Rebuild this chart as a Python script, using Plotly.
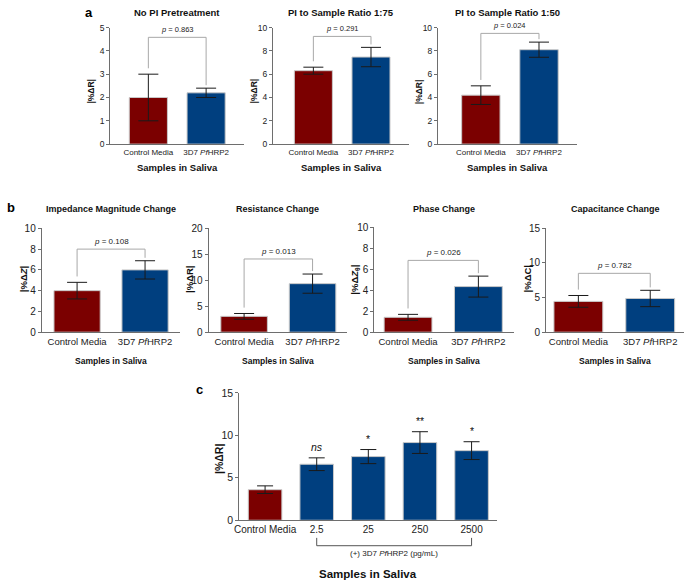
import plotly.graph_objects as go

# ---------------- data ----------------
a_titles = ["No PI Pretreatment", "PI to Sample Ratio 1:75", "PI to Sample Ratio 1:50"]
a_ctrl = [2.0, 6.3, 4.2]
a_ctrl_err = [1.0, 0.3, 0.8]
a_hrp2 = [2.2, 7.47, 8.1]
a_hrp2_err = [0.2, 0.83, 0.65]
a_p = ["0.863", "0.291", "0.024"]
a_bracket = [4.58, 9.24, 9.5]
a_ymax = [5, 10, 10]
a_dtick = [1, 2, 2]

b_titles = ["Impedance Magnitude Change", "Resistance Change", "Phase Change", "Capacitance Change"]
b_ylabels = ["|%Δ<i>Z</i>|", "|%ΔR|", "|%Δ<i>Z</i><sub>θ</sub>|", "|%ΔC|"]
b_ctrl = [4.0, 3.05, 1.42, 4.45]
b_ctrl_err = [0.8, 0.55, 0.28, 0.85]
b_hrp2 = [6.0, 9.35, 4.35, 4.87]
b_hrp2_err = [0.88, 1.85, 1.0, 1.18]
b_p = ["0.108", "0.013", "0.026", "0.782"]
b_bracket = [8.0, 14.1, 6.85, 8.5]
b_ymax = [10, 20, 10, 15]
b_dtick = [2, 5, 2, 5]

categories = ["Control Media", "3D7 <i>Pf</i>HRP2"]

c_labels = ["Control Media", "2.5", "25", "250", "2500"]
c_vals = [3.6, 6.6, 7.5, 9.15, 8.2]
c_err = [0.45, 0.75, 0.83, 1.28, 1.05]
c_sig = ["", "<i>ns</i>", "*", "**", "*"]

# ---------------- style ----------------
W, H = 685, 586
RED = "#7b0000"
BLUE = "#003f7f"
EDGE = "#c9c9c9"
AXC = "#6e6e6e"
BRK = "#a8a8a8"
FONT = "Liberation Sans, Arial, sans-serif"


def xd(a, b):
    return [a / W, b / W]


def yd(top, bottom):
    return [1 - bottom / H, 1 - top / H]


def py(p):
    return 1 - p / H


def txt(x, y, text, size, color="#111", xref="paper", yref="paper", angle=0, **kw):
    d = dict(x=x, y=y, xref=xref, yref=yref, text=text, showarrow=False,
             xanchor="center", yanchor="middle", textangle=angle,
             font=dict(size=size, color=color, family=FONT))
    d.update(kw)
    return d


# panel geometry (pixels)
panels = [
    dict(x=(106, 241), y=(22, 141), xr=(-0.66, 1.66)),
    dict(x=(270, 407), y=(22, 141), xr=(-0.70, 1.66)),
    dict(x=(436, 576), y=(22, 141), xr=(-0.74, 1.65)),
    dict(x=(37, 176), y=(227, 333), xr=(-0.52, 1.51)),
    dict(x=(205, 345), y=(227, 333), xr=(-0.52, 1.51)),
    dict(x=(372, 513), y=(226, 333), xr=(-0.48, 1.51)),
    dict(x=(545, 684), y=(227, 333), xr=(-0.45, 1.47)),
    dict(x=(236, 496), y=(395, 525), xr=(-0.5, 4.5)),
]

fig = go.Figure()
layout = {}
annotations = []
shapes = []


def axnames(i):
    s = "" if i == 0 else str(i + 1)
    return "x" + s, "y" + s, "xaxis" + s, "yaxis" + s


def add_pair(i, ctrl, ce, hrp, he, ymax, dtick, p, brk, tfs, lfs, pfs, bw, capw):
    xr_, yr_, xk, yk = axnames(i)
    pn = panels[i]
    fig.add_trace(go.Bar(
        x=[0, 1], y=[ctrl, hrp], width=bw,
        marker=dict(color=[RED, BLUE], line=dict(color=EDGE, width=1)),
        error_y=dict(type="data", array=[ce, he], visible=True,
                     color="#1a1a1a", thickness=1, width=capw),
        xaxis=xr_, yaxis=yr_, showlegend=False, hoverinfo="skip"))
    layout[xk] = dict(domain=xd(*pn["x"]), range=list(pn["xr"]), anchor=yr_,
                      tickvals=[0, 1], ticktext=categories,
                      tickfont=dict(size=lfs, color="#222", family=FONT),
                      showline=True, linecolor=AXC, linewidth=1, ticks="",
                      showgrid=False, zeroline=False, fixedrange=True)
    layout[yk] = dict(domain=yd(*pn["y"]), range=[0, ymax], anchor=xr_,
                      dtick=dtick, tickfont=dict(size=tfs, color="#222", family=FONT),
                      showline=True, linecolor=AXC, linewidth=1,
                      ticks="outside", ticklen=3, tickcolor=AXC,
                      showgrid=False, zeroline=False, fixedrange=True)
    ytop, ybot = pn["y"]
    ppu = (ybot - ytop) / ymax
    lt = ctrl + ce + 6 / ppu
    rt = hrp + he + 3 / ppu
    shapes.append(dict(type="path", xref=xr_, yref=yr_,
                       path=f"M 0,{lt} L 0,{brk} L 1,{brk} L 1,{rt}",
                       line=dict(color=BRK, width=1)))
    annotations.append(txt(0.5, brk, f"<i>p</i> = {p}", pfs, "#222", xref=xr_, yref=yr_,
                           yanchor="bottom", yshift=1))


# ----- panel a -----
for k in range(3):
    add_pair(k, a_ctrl[k], a_ctrl_err[k], a_hrp2[k], a_hrp2_err[k], a_ymax[k], a_dtick[k],
             a_p[k], a_bracket[k], 8.5, 8, 7.5, 0.66, 10)
    pn = panels[k]
    cx = (pn["x"][0] + pn["x"][1]) / 2 / W
    annotations.append(txt(cx, py(7), f"<b>{a_titles[k]}</b>", 9.5))
    annotations.append(txt(cx, py(165), "<b>Samples in Saliva</b>", 9.5))
    annotations.append(txt((pn["x"][0] - 19) / W, py(87), "<b>|%ΔR|</b>", 8.5, angle=-90))

# ----- panel b -----
for k in range(4):
    i = 3 + k
    add_pair(i, b_ctrl[k], b_ctrl_err[k], b_hrp2[k], b_hrp2_err[k], b_ymax[k], b_dtick[k],
             b_p[k], b_bracket[k], 10, 9.5, 8, 0.68, 10)
    pn = panels[i]
    cx = (pn["x"][0] + pn["x"][1]) / 2 / W
    annotations.append(txt(cx, py(207), f"<b>{b_titles[k]}</b>", 9))
    annotations.append(txt(cx, py(362), "<b>Samples in Saliva</b>", 8.5))
    annotations.append(txt((pn["x"][0] - 19) / W, py(279), f"<b>{b_ylabels[k]}</b>", 9.5, angle=-90))

# ----- panel c -----
xr_, yr_, xk, yk = axnames(7)
pn = panels[7]
fig.add_trace(go.Bar(
    x=list(range(len(c_vals))), y=c_vals, width=0.65,
    marker=dict(color=[RED] + [BLUE] * (len(c_vals) - 1), line=dict(color=EDGE, width=1)),
    error_y=dict(type="data", array=c_err, visible=True, color="#1a1a1a", thickness=1, width=8),
    xaxis=xr_, yaxis=yr_, showlegend=False, hoverinfo="skip"))
layout[xk] = dict(domain=xd(*pn["x"]), range=list(pn["xr"]), anchor=yr_,
                  tickvals=list(range(len(c_labels))), ticktext=c_labels,
                  tickfont=dict(size=10, color="#222", family=FONT),
                  showline=True, linecolor=AXC, linewidth=1, ticks="",
                  showgrid=False, zeroline=False, fixedrange=True)
layout[yk] = dict(domain=yd(*pn["y"]), range=[0, 15], anchor=xr_, dtick=5,
                  tickfont=dict(size=10.5, color="#222", family=FONT),
                  showline=True, linecolor=AXC, linewidth=1,
                  ticks="outside", ticklen=3, tickcolor=AXC,
                  showgrid=False, zeroline=False, fixedrange=True)
for j, s in enumerate(c_sig):
    if s:
        annotations.append(txt(j, c_vals[j] + c_err[j], s, 10.5, xref=xr_, yref=yr_,
                               yanchor="bottom", yshift=3))
shapes.append(dict(type="path", xref=xr_, yref="paper",
                   path=f"M 1,{py(543)} L 1,{py(551)} L 4,{py(551)} L 4,{py(543)}",
                   line=dict(color="#555", width=1)))
annotations.append(txt(2.5, py(559), "(+) 3D7 <i>Pf</i>HRP2 (pg/mL)", 8, "#222", xref=xr_))
annotations.append(txt((pn["x"][0] + pn["x"][1]) / 2 / W, py(580), "<b>Samples in Saliva</b>", 11.5))
annotations.append(txt((pn["x"][0] - 21) / W, py(462), "<b>|%ΔR|</b>", 10.5, angle=-90))

# panel letters
for t, x, y in [("a", 85, 7), ("b", 6, 206), ("c", 196, 392)]:
    annotations.append(txt(x / W, py(y), f"<b>{t}</b>", 13, "#000"))

fig.update_layout(
    width=W, height=H, margin=dict(l=0, r=0, t=0, b=0),
    paper_bgcolor="white", plot_bgcolor="white",
    font=dict(family=FONT, color="#222"),
    annotations=annotations, shapes=shapes, showlegend=False,
    **layout)

post = (
    "var de=document.documentElement, bd=document.body;"
    "de.style.margin='0';de.style.padding='0';de.style.overflow='hidden';"
    "bd.style.margin='0';bd.style.padding='0';bd.style.overflow='hidden';"
    "de.style.width='685px';de.style.height='586px';"
    "bd.style.width='685px';bd.style.height='586px';"
    "var g=document.getElementById('{plot_id}');"
    "g.style.position='fixed';g.style.left='0px';g.style.top='0px';"
)
fig.write_html("out.html", config={"displayModeBar": False}, post_script=post)
